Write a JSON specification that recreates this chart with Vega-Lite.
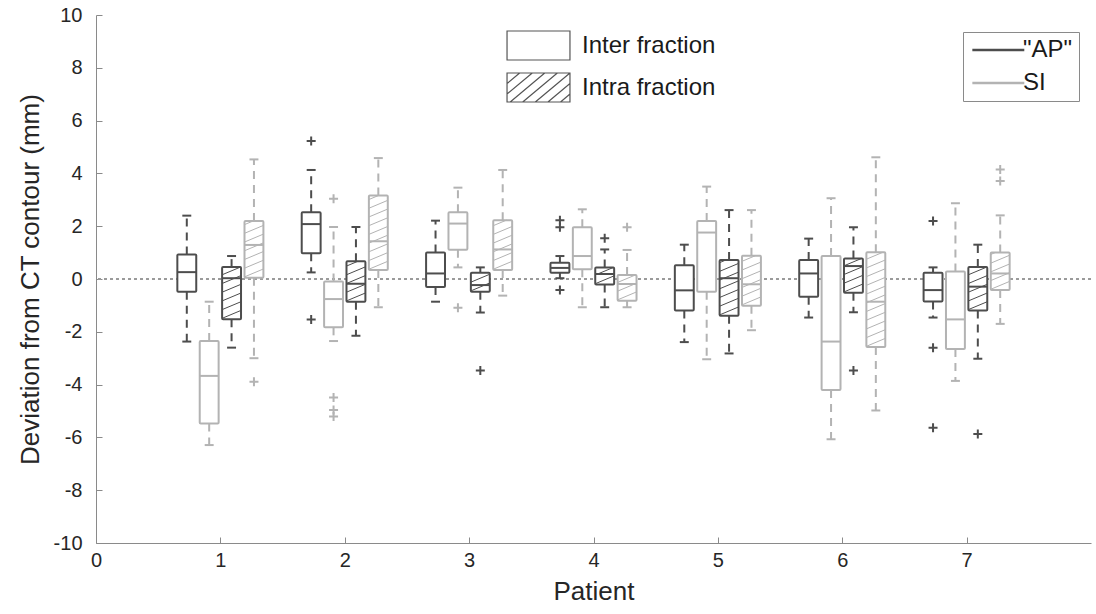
{
  "$schema": "https://vega.github.io/schema/vega-lite/v6.json",
  "autosize": "none",
  "width": 995,
  "height": 528,
  "padding": {"left": 96, "top": 15, "right": 5, "bottom": 71},
  "background": "white",
  "config": {
    "view": {"stroke": null},
    "font": "Liberation Sans",
    "axis": {
      "grid": false,
      "domainColor": "#8a8a8a",
      "tickColor": "#8a8a8a",
      "tickSize": -6,
      "labelFont": "Liberation Sans",
      "titleFont": "Liberation Sans",
      "labelFontSize": 20,
      "titleFontSize": 26,
      "titleFontWeight": "normal",
      "labelColor": "#262626",
      "titleColor": "#262626",
      "labelFlush": false,
      "labelOverlap": false,
      "labelExpr": "'' + datum.value"
    },
    "legend": {"labelFont": "Liberation Sans", "labelColor": "#1a1a1a"}
  },
  "datasets": {
    "boxes": [
      {"patient": 1, "dir": "AP", "frac": "Inter fraction", "lo": -2.37, "q1": -0.48, "med": 0.26, "q3": 0.93, "hi": 2.40},
      {"patient": 1, "dir": "SI", "frac": "Inter fraction", "lo": -6.29, "q1": -5.47, "med": -3.67, "q3": -2.35, "hi": -0.86},
      {"patient": 1, "dir": "AP", "frac": "Intra fraction", "lo": -2.60, "q1": -1.52, "med": 0.03, "q3": 0.45, "hi": 0.87},
      {"patient": 1, "dir": "SI", "frac": "Intra fraction", "lo": -3.00, "q1": 0.05, "med": 1.29, "q3": 2.20, "hi": 4.53},
      {"patient": 2, "dir": "AP", "frac": "Inter fraction", "lo": 0.25, "q1": 0.98, "med": 2.08, "q3": 2.53, "hi": 4.13},
      {"patient": 2, "dir": "SI", "frac": "Inter fraction", "lo": -2.35, "q1": -1.83, "med": -0.76, "q3": -0.09, "hi": 1.97},
      {"patient": 2, "dir": "AP", "frac": "Intra fraction", "lo": -2.15, "q1": -0.86, "med": -0.18, "q3": 0.67, "hi": 1.97},
      {"patient": 2, "dir": "SI", "frac": "Intra fraction", "lo": -1.07, "q1": 0.34, "med": 1.43, "q3": 3.16, "hi": 4.58},
      {"patient": 3, "dir": "AP", "frac": "Inter fraction", "lo": -0.86, "q1": -0.30, "med": 0.21, "q3": 1.00, "hi": 2.21},
      {"patient": 3, "dir": "SI", "frac": "Inter fraction", "lo": 0.44, "q1": 1.11, "med": 2.10, "q3": 2.53, "hi": 3.46},
      {"patient": 3, "dir": "AP", "frac": "Intra fraction", "lo": -1.27, "q1": -0.48, "med": -0.23, "q3": 0.24, "hi": 0.44},
      {"patient": 3, "dir": "SI", "frac": "Intra fraction", "lo": -0.63, "q1": 0.34, "med": 1.12, "q3": 2.23, "hi": 4.13},
      {"patient": 4, "dir": "AP", "frac": "Inter fraction", "lo": 0.03, "q1": 0.24, "med": 0.42, "q3": 0.62, "hi": 0.87},
      {"patient": 4, "dir": "SI", "frac": "Inter fraction", "lo": -1.07, "q1": 0.37, "med": 0.87, "q3": 1.96, "hi": 2.64},
      {"patient": 4, "dir": "AP", "frac": "Intra fraction", "lo": -1.07, "q1": -0.21, "med": 0.19, "q3": 0.44, "hi": 1.12},
      {"patient": 4, "dir": "SI", "frac": "Intra fraction", "lo": -1.07, "q1": -0.82, "med": -0.19, "q3": 0.15, "hi": 1.10},
      {"patient": 5, "dir": "AP", "frac": "Inter fraction", "lo": -2.39, "q1": -1.19, "med": -0.43, "q3": 0.52, "hi": 1.30},
      {"patient": 5, "dir": "SI", "frac": "Inter fraction", "lo": -3.04, "q1": -0.48, "med": 1.76, "q3": 2.20, "hi": 3.50},
      {"patient": 5, "dir": "AP", "frac": "Intra fraction", "lo": -2.82, "q1": -1.39, "med": 0.03, "q3": 0.72, "hi": 2.61},
      {"patient": 5, "dir": "SI", "frac": "Intra fraction", "lo": -1.94, "q1": -1.01, "med": -0.20, "q3": 0.88, "hi": 2.61},
      {"patient": 6, "dir": "AP", "frac": "Inter fraction", "lo": -1.46, "q1": -0.67, "med": 0.21, "q3": 0.72, "hi": 1.53},
      {"patient": 6, "dir": "SI", "frac": "Inter fraction", "lo": -6.07, "q1": -4.20, "med": -2.37, "q3": 0.87, "hi": 3.06},
      {"patient": 6, "dir": "AP", "frac": "Intra fraction", "lo": -1.26, "q1": -0.52, "med": 0.49, "q3": 0.78, "hi": 1.96},
      {"patient": 6, "dir": "SI", "frac": "Intra fraction", "lo": -4.98, "q1": -2.58, "med": -0.86, "q3": 1.01, "hi": 4.61},
      {"patient": 7, "dir": "AP", "frac": "Inter fraction", "lo": -1.46, "q1": -0.85, "med": -0.42, "q3": 0.24, "hi": 0.44},
      {"patient": 7, "dir": "SI", "frac": "Inter fraction", "lo": -3.86, "q1": -2.65, "med": -1.53, "q3": 0.28, "hi": 2.87},
      {"patient": 7, "dir": "AP", "frac": "Intra fraction", "lo": -3.02, "q1": -1.19, "med": -0.29, "q3": 0.45, "hi": 1.30},
      {"patient": 7, "dir": "SI", "frac": "Intra fraction", "lo": -1.70, "q1": -0.42, "med": 0.21, "q3": 1.00, "hi": 2.41}
    ],
    "outliers": [
      {"patient": 1, "dir": "SI", "frac": "Intra fraction", "v": -3.89},
      {"patient": 2, "dir": "AP", "frac": "Inter fraction", "v": 5.23},
      {"patient": 2, "dir": "AP", "frac": "Inter fraction", "v": -1.53},
      {"patient": 2, "dir": "SI", "frac": "Inter fraction", "v": 3.04},
      {"patient": 2, "dir": "SI", "frac": "Inter fraction", "v": -4.49},
      {"patient": 2, "dir": "SI", "frac": "Inter fraction", "v": -4.96},
      {"patient": 2, "dir": "SI", "frac": "Inter fraction", "v": -5.21},
      {"patient": 3, "dir": "SI", "frac": "Inter fraction", "v": -1.09},
      {"patient": 3, "dir": "AP", "frac": "Intra fraction", "v": -3.47},
      {"patient": 4, "dir": "AP", "frac": "Inter fraction", "v": 2.23},
      {"patient": 4, "dir": "AP", "frac": "Inter fraction", "v": 1.96},
      {"patient": 4, "dir": "AP", "frac": "Inter fraction", "v": -0.42},
      {"patient": 4, "dir": "AP", "frac": "Intra fraction", "v": 1.54},
      {"patient": 4, "dir": "SI", "frac": "Intra fraction", "v": 1.96},
      {"patient": 6, "dir": "AP", "frac": "Intra fraction", "v": -3.47},
      {"patient": 7, "dir": "AP", "frac": "Inter fraction", "v": 2.20},
      {"patient": 7, "dir": "AP", "frac": "Inter fraction", "v": -2.60},
      {"patient": 7, "dir": "AP", "frac": "Inter fraction", "v": -5.63},
      {"patient": 7, "dir": "AP", "frac": "Intra fraction", "v": -5.87},
      {"patient": 7, "dir": "SI", "frac": "Intra fraction", "v": 4.15},
      {"patient": 7, "dir": "SI", "frac": "Intra fraction", "v": 3.71}
    ]
  },
  "data": {"name": "boxes"},
  "transform": [
    {"calculate": "datum.patient + (datum.dir == 'AP' ? (datum.frac == 'Inter fraction' ? -0.27 : 0.09) : (datum.frac == 'Inter fraction' ? -0.09 : 0.27))", "as": "pos"},
    {"calculate": "datum.pos - 0.076", "as": "xL"},
    {"calculate": "datum.pos + 0.076", "as": "xR"},
    {"calculate": "datum.pos - 0.036", "as": "cL"},
    {"calculate": "datum.pos + 0.036", "as": "cR"}
  ],
  "layer": [
    {
      "mark": {"type": "rule", "color": "#9a9a9a", "strokeWidth": 1, "strokeDash": [3, 3]},
      "encoding": {"y": {"datum": 0, "type": "quantitative", "scale": {"domain": [-10, 10], "nice": false}}}
    },
    {
      "mark": {"type": "rule", "strokeWidth": 2, "strokeDash": [8, 6]},
      "encoding": {
        "x": {"field": "pos", "type": "quantitative", "scale": {"domain": [0, 8], "nice": false, "zero": false},
              "axis": {"values": [0, 1, 2, 3, 4, 5, 6, 7], "title": "Patient", "labelPadding": 13, "titlePadding": 8}},
        "y": {"field": "q3", "type": "quantitative", "scale": {"domain": [-10, 10], "nice": false},
              "axis": {"values": [-10, -8, -6, -4, -2, 0, 2, 4, 6, 8, 10], "title": "Deviation from CT contour (mm)", "labelPadding": 20, "titlePadding": 10}},
        "y2": {"field": "hi"},
        "stroke": {"field": "dir", "type": "nominal", "scale": {"domain": ["AP", "SI"], "range": ["#4d4d4d", "#b3b3b3"]}}
      }
    },
    {
      "mark": {"type": "rule", "strokeWidth": 2, "strokeDash": [8, 6]},
      "encoding": {
        "x": {"field": "pos", "type": "quantitative"},
        "y": {"field": "q1", "type": "quantitative"},
        "y2": {"field": "lo"},
        "stroke": {"field": "dir", "type": "nominal", "scale": {"domain": ["AP", "SI"], "range": ["#4d4d4d", "#b3b3b3"]}}
      }
    },
    {
      "mark": {"type": "rule", "strokeWidth": 2},
      "encoding": {
        "x": {"field": "cL", "type": "quantitative"},
        "x2": {"field": "cR"},
        "y": {"field": "hi", "type": "quantitative"},
        "stroke": {"field": "dir", "type": "nominal", "scale": {"domain": ["AP", "SI"], "range": ["#4d4d4d", "#b3b3b3"]}}
      }
    },
    {
      "mark": {"type": "rule", "strokeWidth": 2},
      "encoding": {
        "x": {"field": "cL", "type": "quantitative"},
        "x2": {"field": "cR"},
        "y": {"field": "lo", "type": "quantitative"},
        "stroke": {"field": "dir", "type": "nominal", "scale": {"domain": ["AP", "SI"], "range": ["#4d4d4d", "#b3b3b3"]}}
      }
    },
    {
      "mark": {"type": "rect", "fill": "white", "strokeWidth": 2, "cornerRadius": 1},
      "encoding": {
        "x": {"field": "xL", "type": "quantitative"},
        "x2": {"field": "xR"},
        "y": {"field": "q1", "type": "quantitative"},
        "y2": {"field": "q3"},
        "stroke": {"field": "dir", "type": "nominal", "scale": {"domain": ["AP", "SI"], "range": ["#4d4d4d", "#b3b3b3"]}}
      }
    },
    {
      "transform": [
        {"filter": "datum.frac == 'Intra fraction'"},
        {"calculate": "sequence(0, 25)", "as": "ks"},
        {"flatten": ["ks"], "as": ["k"]},
        {"calculate": "datum.q1 - 0.3 + datum.k * 0.33", "as": "y0"},
        {"calculate": "max(datum.y0, datum.q1)", "as": "ya"},
        {"calculate": "min(datum.y0 + 0.3, datum.q3)", "as": "yb"},
        {"filter": "datum.yb - datum.ya > 0.01"},
        {"calculate": "datum.xL + (datum.ya - datum.y0) / 0.3 * (datum.xR - datum.xL)", "as": "xa"},
        {"calculate": "datum.xL + (datum.yb - datum.y0) / 0.3 * (datum.xR - datum.xL)", "as": "xb"}
      ],
      "mark": {"type": "rule", "strokeWidth": 1},
      "encoding": {
        "x": {"field": "xa", "type": "quantitative"},
        "x2": {"field": "xb"},
        "y": {"field": "ya", "type": "quantitative"},
        "y2": {"field": "yb"},
        "stroke": {"field": "dir", "type": "nominal", "scale": {"domain": ["AP", "SI"], "range": ["#4d4d4d", "#b3b3b3"]}}
      }
    },
    {
      "mark": {"type": "rule", "strokeWidth": 2},
      "encoding": {
        "x": {"field": "xL", "type": "quantitative"},
        "x2": {"field": "xR"},
        "y": {"field": "med", "type": "quantitative"},
        "stroke": {"field": "dir", "type": "nominal", "scale": {"domain": ["AP", "SI"], "range": ["#4d4d4d", "#b3b3b3"]},
                   "legend": {"title": null, "orient": "none", "legendX": 867, "legendY": 17,
                              "labelExpr": "datum.label == 'AP' ? '\"AP\"' : datum.label",
                              "symbolType": "M-1,0L5,0", "symbolSize": 300, "symbolStrokeWidth": 2.5,
                              "symbolDash": [1, 0],
                              "strokeColor": "#8a8a8a", "padding": 6, "labelFontSize": 24, "labelOffset": 30, "rowPadding": 9}}
      }
    },
    {
      "data": {"name": "outliers"},
      "transform": [
        {"calculate": "datum.patient + (datum.dir == 'AP' ? (datum.frac == 'Inter fraction' ? -0.27 : 0.09) : (datum.frac == 'Inter fraction' ? -0.09 : 0.27))", "as": "pos"}
      ],
      "mark": {"type": "point", "shape": "M-1,0L1,0M0,-1L0,1", "size": 81, "strokeWidth": 2, "filled": false, "opacity": 1},
      "encoding": {
        "x": {"field": "pos", "type": "quantitative"},
        "y": {"field": "v", "type": "quantitative"},
        "stroke": {"field": "dir", "type": "nominal", "scale": {"domain": ["AP", "SI"], "range": ["#4d4d4d", "#b3b3b3"]}}
      }
    },
    {
      "mark": {"type": "point", "filled": false, "opacity": 0, "color": "#4d4d4d"},
      "encoding": {
        "x": {"field": "pos", "type": "quantitative"},
        "y": {"field": "med", "type": "quantitative"},
        "shape": {"field": "frac", "type": "nominal",
                  "scale": {"domain": ["Inter fraction", "Intra fraction"],
                            "range": ["M-2.17,-1L2.17,-1L2.17,1L-2.17,1Z",
                                      "M-2.17,-1L2.17,-1L2.17,1L-2.17,1ZM-2.17,-0.27L-1.3,-1M-2.17,0.45L-0.43,-1M-1.95,1L0.43,-1M-1.09,1L1.3,-1M-0.22,1L2.17,-1M0.65,1L2.17,-0.27M1.52,1L2.17,0.45"]},
                  "legend": {"title": null, "orient": "none", "legendX": 427, "legendY": 15,
                             "symbolSize": 841, "symbolStrokeWidth": 1.2, "symbolStrokeColor": "#555555", "symbolFillColor": "white",
                             "labelFontSize": 24, "labelOffset": 28, "rowPadding": 7}}
      }
    }
  ]
}
